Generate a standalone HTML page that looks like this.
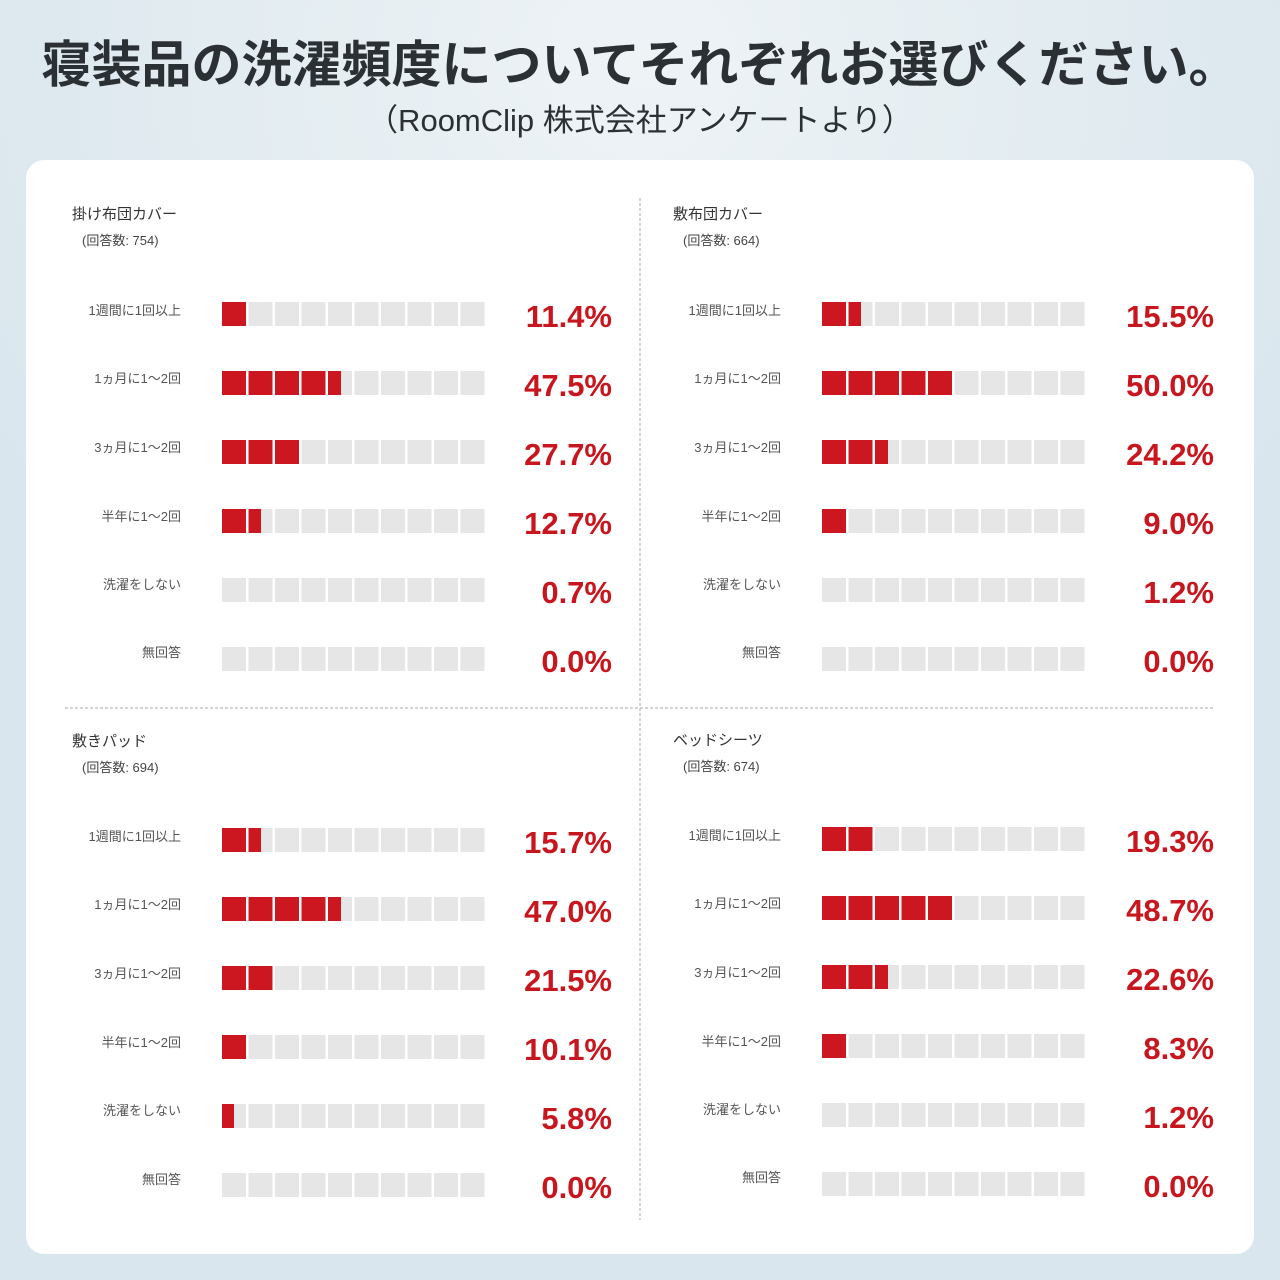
<!DOCTYPE html>
<html><head><meta charset="utf-8"><style>
html,body{margin:0;padding:0;width:1280px;height:1280px;overflow:hidden;background:#dbe7ee}
svg{display:block}
text{font-family:"Liberation Sans","Noto Sans CJK JP",sans-serif}
.t{font-size:50px;font-weight:bold;fill:#2b3035}
.s{font-size:31px;fill:#2b3035}
.h{font-size:15px;fill:#333}
.n{font-size:13px;fill:#444}
.l{font-size:13px;fill:#555;text-anchor:end}
.p{font-size:31px;font-weight:bold;fill:#c8161e;text-anchor:end}
</style></head><body>
<svg width="1280" height="1280" viewBox="0 0 1280 1280">
<defs>
<clipPath id="c" clipPathUnits="userSpaceOnUse">
<rect x="0" y="0" width="24" height="24"/><rect x="26.5" y="0" width="24" height="24"/><rect x="53" y="0" width="24" height="24"/><rect x="79.5" y="0" width="24" height="24"/><rect x="106" y="0" width="24" height="24"/><rect x="132.5" y="0" width="24" height="24"/><rect x="159" y="0" width="24" height="24"/><rect x="185.5" y="0" width="24" height="24"/><rect x="212" y="0" width="24" height="24"/><rect x="238.5" y="0" width="24" height="24"/>
</clipPath>
<radialGradient id="bg" cx="0.5" cy="0.05" r="0.6"><stop offset="0" stop-color="#eef3f6"/><stop offset="1" stop-color="#d9e6ed"/></radialGradient>
</defs>
<rect width="1280" height="1280" fill="url(#bg)"/>
<text class="t" x="640" y="82" text-anchor="middle">寝装品の洗濯頻度についてそれぞれお選びください。</text>
<text class="s" x="640" y="131" text-anchor="middle">（RoomClip 株式会社アンケートより）</text>
<rect x="26" y="160" width="1228" height="1094" rx="18" fill="#fff"/>
<line x1="640" y1="198" x2="640" y2="1220" stroke="#aaa" stroke-dasharray="3,2"/>
<line x1="65" y1="708" x2="1215" y2="708" stroke="#aaa" stroke-dasharray="3,2"/>

<!-- Panel 1 -->
<text class="h" x="72" y="219">掛け布団カバー</text>
<text class="n" x="82" y="245">(回答数: 754)</text>
<text class="l" x="181" y="315">1週間に1回以上</text>
<text class="l" x="181" y="383">1ヵ月に1〜2回</text>
<text class="l" x="181" y="452">3ヵ月に1〜2回</text>
<text class="l" x="181" y="521">半年に1〜2回</text>
<text class="l" x="181" y="589">洗濯をしない</text>
<text class="l" x="181" y="657">無回答</text>
<g transform="translate(222,302)" clip-path="url(#c)"><rect width="265" height="24" fill="#e6e6e6"/><rect width="24" height="24" fill="#cc1720"/></g>
<g transform="translate(222,371)" clip-path="url(#c)"><rect width="265" height="24" fill="#e6e6e6"/><rect width="119" height="24" fill="#cc1720"/></g>
<g transform="translate(222,440)" clip-path="url(#c)"><rect width="265" height="24" fill="#e6e6e6"/><rect width="78" height="24" fill="#cc1720"/></g>
<g transform="translate(222,509)" clip-path="url(#c)"><rect width="265" height="24" fill="#e6e6e6"/><rect width="39" height="24" fill="#cc1720"/></g>
<g transform="translate(222,578)" clip-path="url(#c)"><rect width="265" height="24" fill="#e6e6e6"/></g>
<g transform="translate(222,647)" clip-path="url(#c)"><rect width="265" height="24" fill="#e6e6e6"/></g>
<text class="p" x="612" y="327">11.4%</text>
<text class="p" x="612" y="396">47.5%</text>
<text class="p" x="612" y="465">27.7%</text>
<text class="p" x="612" y="534">12.7%</text>
<text class="p" x="612" y="603">0.7%</text>
<text class="p" x="612" y="672">0.0%</text>

<!-- Panel 2 -->
<text class="h" x="673" y="219">敷布団カバー</text>
<text class="n" x="683" y="245">(回答数: 664)</text>
<text class="l" x="781" y="315">1週間に1回以上</text>
<text class="l" x="781" y="383">1ヵ月に1〜2回</text>
<text class="l" x="781" y="452">3ヵ月に1〜2回</text>
<text class="l" x="781" y="521">半年に1〜2回</text>
<text class="l" x="781" y="589">洗濯をしない</text>
<text class="l" x="781" y="657">無回答</text>
<g transform="translate(822,302)" clip-path="url(#c)"><rect width="265" height="24" fill="#e6e6e6"/><rect width="39" height="24" fill="#cc1720"/></g>
<g transform="translate(822,371)" clip-path="url(#c)"><rect width="265" height="24" fill="#e6e6e6"/><rect width="132" height="24" fill="#cc1720"/></g>
<g transform="translate(822,440)" clip-path="url(#c)"><rect width="265" height="24" fill="#e6e6e6"/><rect width="66" height="24" fill="#cc1720"/></g>
<g transform="translate(822,509)" clip-path="url(#c)"><rect width="265" height="24" fill="#e6e6e6"/><rect width="24" height="24" fill="#cc1720"/></g>
<g transform="translate(822,578)" clip-path="url(#c)"><rect width="265" height="24" fill="#e6e6e6"/></g>
<g transform="translate(822,647)" clip-path="url(#c)"><rect width="265" height="24" fill="#e6e6e6"/></g>
<text class="p" x="1214" y="327">15.5%</text>
<text class="p" x="1214" y="396">50.0%</text>
<text class="p" x="1214" y="465">24.2%</text>
<text class="p" x="1214" y="534">9.0%</text>
<text class="p" x="1214" y="603">1.2%</text>
<text class="p" x="1214" y="672">0.0%</text>

<!-- Panel 3 -->
<text class="h" x="72" y="746">敷きパッド</text>
<text class="n" x="82" y="772">(回答数: 694)</text>
<text class="l" x="181" y="841">1週間に1回以上</text>
<text class="l" x="181" y="909">1ヵ月に1〜2回</text>
<text class="l" x="181" y="978">3ヵ月に1〜2回</text>
<text class="l" x="181" y="1047">半年に1〜2回</text>
<text class="l" x="181" y="1115">洗濯をしない</text>
<text class="l" x="181" y="1184">無回答</text>
<g transform="translate(222,828)" clip-path="url(#c)"><rect width="265" height="24" fill="#e6e6e6"/><rect width="39" height="24" fill="#cc1720"/></g>
<g transform="translate(222,897)" clip-path="url(#c)"><rect width="265" height="24" fill="#e6e6e6"/><rect width="119" height="24" fill="#cc1720"/></g>
<g transform="translate(222,966)" clip-path="url(#c)"><rect width="265" height="24" fill="#e6e6e6"/><rect width="51" height="24" fill="#cc1720"/></g>
<g transform="translate(222,1035)" clip-path="url(#c)"><rect width="265" height="24" fill="#e6e6e6"/><rect width="24" height="24" fill="#cc1720"/></g>
<g transform="translate(222,1104)" clip-path="url(#c)"><rect width="265" height="24" fill="#e6e6e6"/><rect width="12" height="24" fill="#cc1720"/></g>
<g transform="translate(222,1173)" clip-path="url(#c)"><rect width="265" height="24" fill="#e6e6e6"/></g>
<text class="p" x="612" y="853">15.7%</text>
<text class="p" x="612" y="922">47.0%</text>
<text class="p" x="612" y="991">21.5%</text>
<text class="p" x="612" y="1060">10.1%</text>
<text class="p" x="612" y="1129">5.8%</text>
<text class="p" x="612" y="1198">0.0%</text>

<!-- Panel 4 -->
<text class="h" x="673" y="745">ベッドシーツ</text>
<text class="n" x="683" y="771">(回答数: 674)</text>
<text class="l" x="781" y="840">1週間に1回以上</text>
<text class="l" x="781" y="908">1ヵ月に1〜2回</text>
<text class="l" x="781" y="977">3ヵ月に1〜2回</text>
<text class="l" x="781" y="1046">半年に1〜2回</text>
<text class="l" x="781" y="1114">洗濯をしない</text>
<text class="l" x="781" y="1182">無回答</text>
<g transform="translate(822,827)" clip-path="url(#c)"><rect width="265" height="24" fill="#e6e6e6"/><rect width="51" height="24" fill="#cc1720"/></g>
<g transform="translate(822,896)" clip-path="url(#c)"><rect width="265" height="24" fill="#e6e6e6"/><rect width="132" height="24" fill="#cc1720"/></g>
<g transform="translate(822,965)" clip-path="url(#c)"><rect width="265" height="24" fill="#e6e6e6"/><rect width="66" height="24" fill="#cc1720"/></g>
<g transform="translate(822,1034)" clip-path="url(#c)"><rect width="265" height="24" fill="#e6e6e6"/><rect width="24" height="24" fill="#cc1720"/></g>
<g transform="translate(822,1103)" clip-path="url(#c)"><rect width="265" height="24" fill="#e6e6e6"/></g>
<g transform="translate(822,1172)" clip-path="url(#c)"><rect width="265" height="24" fill="#e6e6e6"/></g>
<text class="p" x="1214" y="852">19.3%</text>
<text class="p" x="1214" y="921">48.7%</text>
<text class="p" x="1214" y="990">22.6%</text>
<text class="p" x="1214" y="1059">8.3%</text>
<text class="p" x="1214" y="1128">1.2%</text>
<text class="p" x="1214" y="1197">0.0%</text>
</svg>
</body></html>
